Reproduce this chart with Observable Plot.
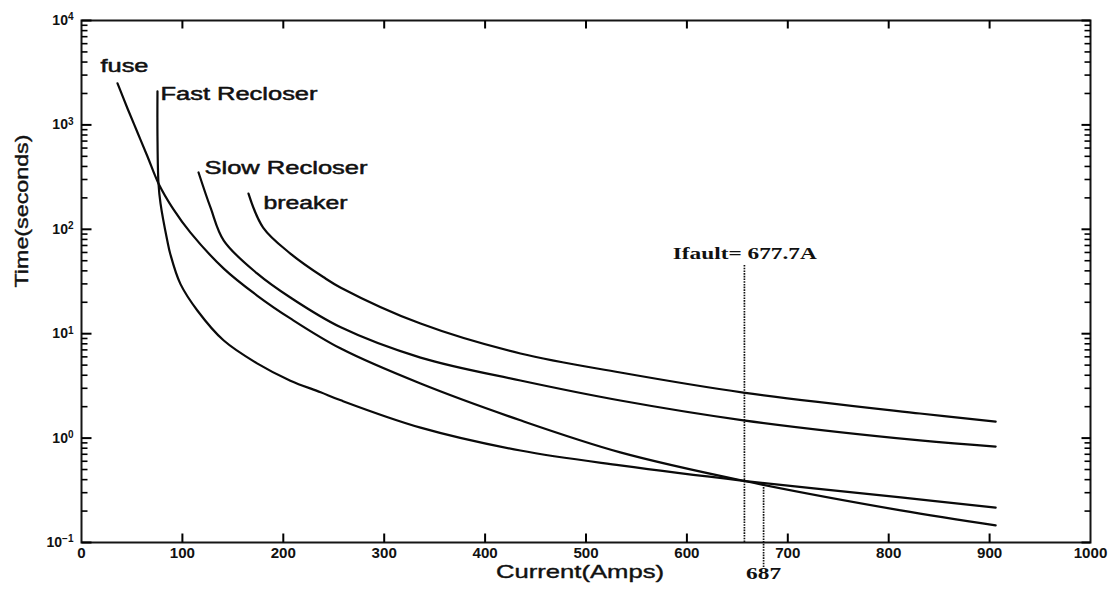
<!DOCTYPE html>
<html>
<head>
<meta charset="utf-8">
<script src="https://cdn.jsdelivr.net/npm/d3@7"></script>
<script src="https://cdn.jsdelivr.net/npm/@observablehq/plot@0.6"></script>
<style>
  html, body { margin: 0; padding: 0; background: #ffffff; }
  svg { display: block; }
</style>
</head>
<body>
<div id="chart"></div>
<script>
// ---------- data ----------
const fuseCurrent = [35.7, 45.6, 55.5, 65.4, 76.3, 91, 108, 141, 174, 207, 257, 336, 435, 534, 656, 812, 906];
const fuseTime    = [2500, 1436, 846, 498, 275, 156, 93, 42, 23.2, 14, 7.2, 3.33, 1.48, 0.73, 0.39, 0.203, 0.146];

const fastCurrent = [75.3, 75.3, 76.3, 78.3, 85, 88, 98, 115, 141, 174, 207, 237, 257, 336, 435, 534, 656, 812, 906];
const fastTime    = [2100, 780, 275, 177, 78, 58, 30, 16.6, 8.6, 5.2, 3.55, 2.75, 2.3, 1.26, 0.76, 0.547, 0.39, 0.27, 0.216];

const slowCurrent = [116, 128, 141, 174, 207, 257, 336, 435, 534, 656, 831, 906];
const slowTime    = [350, 160, 78, 37.8, 22.2, 11.5, 5.9, 3.56, 2.29, 1.48, 0.95, 0.83];

const breakerCurrent = [165.5, 180, 207, 240, 257, 336, 435, 534, 656, 831, 906];
const breakerTime    = [220, 104, 58.6, 34.7, 27.6, 12.5, 6.46, 4.25, 2.73, 1.72, 1.44];

const curveNames   = ["fuse", "Fast Recloser", "Slow Recloser", "breaker"];
const labelCurrent = [18.8, 78.3, 121.9, 180.4];
const labelTime    = [3622, 1954, 382, 177];

const faultLabel = "Ifault= 677.7A";
const faultLineCurrent = [657, 676];
const faultLineBottom  = [0.1, 0.0576];
const faultLineTop     = [45, 0.336];
const faultTextCurrent = 586;
const faultTextTime = 58.6;
const crossLabel = "687";

const xTicks = [0, 100, 200, 300, 400, 500, 600, 700, 800, 900, 1000];
const yMajor = [0.1, 1, 10, 100, 1000, 10000];
const yTickBase = "10";
const yTickExponents = ["-1", "0", "1", "2", "3", "4"];
const yMinor = [];
for (let e = -1; e < 4; e++) for (let m = 2; m <= 9; m++) yMinor.push(+(m * Math.pow(10, e)).toPrecision(3));

const xTitle = "Current(Amps)";
const yTitle = "Time(seconds)";

// ---------- build tables ----------
const series = [
  ["fuse", fuseCurrent, fuseTime],
  ["fast", fastCurrent, fastTime],
  ["slow", slowCurrent, slowTime],
  ["breaker", breakerCurrent, breakerTime]
];
const rows = series.flatMap(([name, I, T]) => I.map((v, i) => ({series: name, I: v, t: T[i]})));
const labels = curveNames.map((n, i) => ({name: n, I: labelCurrent[i], t: labelTime[i]}));
const faultLines = faultLineCurrent.map((x, i) => ({x, y1: faultLineBottom[i], y2: faultLineTop[i]}));

const W = 1116, H = 594;
const mL = 81, mR = 26, mT = 20, mB = 52;
const xDomain = [0, 1000], yDomain = [0.1, 10000];

// same scales as the plot: used only to express the inward tick lengths (px) in data units
const xs = Plot.scale({x: {domain: xDomain, range: [mL, W - mR]}});
const ys = Plot.scale({y: {type: "log", domain: yDomain, range: [H - mB, mT]}});
const innerTicksX = xTicks.slice(1, -1);

// tick segments as two-point polylines (drawn with Plot.line, one z per tick)
const tickSegs = [];
const addSeg = (id, x1, y1, x2, y2, w) => { tickSegs.push({id, x: x1, y: y1, w}, {id, x: x2, y: y2, w}); };
innerTicksX.forEach(v => {
  addSeg("xb" + v, v, yDomain[0], v, ys.invert(H - mB - 9), 2);
  addSeg("xt" + v, v, yDomain[1], v, ys.invert(mT + 8), 2);
});
yMajor.forEach(v => {
  addSeg("yl" + v, xDomain[0], v, xs.invert(mL + 10), v, 2);
  addSeg("yr" + v, xDomain[1], v, xs.invert(W - mR - 9), v, 2);
});
yMinor.forEach(v => {
  addSeg("ml" + v, xDomain[0], v, xs.invert(mL + 6), v, 1.6);
  addSeg("mr" + v, xDomain[1], v, xs.invert(W - mR - 6), v, 1.6);
});

const supDigits = {"-": "\u207B", "0": "\u2070", "1": "\u00B9", "2": "\u00B2", "3": "\u00B3", "4": "\u2074"};
const supText = e => [...e].map(c => supDigits[c]).join("");

const plot = Plot.plot({
  width: W, height: H,
  marginLeft: mL, marginRight: mR, marginTop: mT, marginBottom: mB,
  style: {fontFamily: "'Liberation Sans', Arial, sans-serif", background: "#ffffff", color: "#111"},
  x: {domain: xDomain},
  y: {type: "log", domain: yDomain},
  marks: [
    // tick labels
    Plot.axisX({anchor: "bottom", ticks: xTicks, tickSize: 0, tickPadding: 6, label: null, fontSize: 14, fontWeight: "bold", tickFormat: d => String(d)}),
    Plot.axisY({anchor: "left", ticks: yMajor, tickSize: 0, tickPadding: 8, label: null, fontSize: 14, fontWeight: "bold",
      tickFormat: d => yTickBase + supText(yTickExponents[yMajor.indexOf(d)])}),
    Plot.frame({stroke: "#151515", strokeWidth: 2}),
    // inward tick marks
    Plot.line(tickSegs.filter(d => d.w === 2), {x: "x", y: "y", z: "id", stroke: "#000", strokeWidth: 2, strokeLinecap: "butt"}),
    Plot.line(tickSegs.filter(d => d.w !== 2), {x: "x", y: "y", z: "id", stroke: "#000", strokeWidth: 1.6, strokeLinecap: "butt"}),
    // fault markers
    Plot.ruleX(faultLines, {x: "x", y1: "y1", y2: "y2", stroke: "#111", strokeWidth: 1.7, strokeDasharray: "1.6,1.1"}),
    // curves
    Plot.line(rows, {x: "I", y: "t", z: "series", stroke: "#0a0a0a", strokeWidth: 2.2, curve: "catmull-rom"}),
    // curve labels
    Plot.text(labels, {x: "I", y: "t", text: "name", textAnchor: "start", fontSize: 18, fill: "#111", stroke: "#111", strokeWidth: 0.5}),
    Plot.text([faultLabel], {x: faultTextCurrent, y: faultTextTime, textAnchor: "start", fontSize: 17, fontWeight: "bold",
      fontFamily: "'Liberation Serif', 'Times New Roman', serif", fill: "#111"}),
    Plot.text([crossLabel], {x: faultLineCurrent[1], frameAnchor: "bottom", dy: 36, fontSize: 17, fontWeight: "bold",
      fontFamily: "'Liberation Serif', 'Times New Roman', serif", fill: "#111"}),
    // axis titles
    Plot.text([xTitle], {frameAnchor: "bottom", dy: 35, dx: -6, fontSize: 19, fill: "#111", stroke: "#111", strokeWidth: 0.4}),
    Plot.text([yTitle], {frameAnchor: "left", dx: -60, dy: 6, rotate: -90, fontSize: 19, fill: "#111", stroke: "#111", strokeWidth: 0.4})
  ]
});

document.getElementById("chart").appendChild(plot);

// y tick labels: draw the exponent as a raised, smaller tspan
d3.select(plot).selectAll('g[aria-label="y-axis tick label"] text').each(function() {
  const full = this.textContent;
  const idx = yMajor.findIndex((v, k) => yTickBase + supText(yTickExponents[k]) === full);
  if (idx < 0) return;
  const sel = d3.select(this);
  sel.text(yTickBase);
  sel.append("tspan").attr("dy", "-0.45em").attr("font-size", "10px").text(yTickExponents[idx].replace("-", "\u2212"));
});

// horizontal stretch of the scanned original: fit selected texts to measured lengths
const targetLengths = {
  "fuse": 48, "Fast Recloser": 157, "Slow Recloser": 163, "breaker": 84,
  [faultLabel]: 144, [crossLabel]: 35, [xTitle]: 168, [yTitle]: 153
};
d3.select(plot).selectAll("text").each(function() {
  const s = this.textContent;
  if (s in targetLengths) {
    this.setAttribute("textLength", targetLengths[s]);
    this.setAttribute("lengthAdjust", "spacingAndGlyphs");
  } else if (this.closest('g[aria-label="x-axis tick label"]')) {
    const len = this.getComputedTextLength();
    if (len > 0) {
      this.setAttribute("textLength", (len * 1.08).toFixed(1));
      this.setAttribute("lengthAdjust", "spacingAndGlyphs");
    }
  }
});
</script>
</body>
</html>
